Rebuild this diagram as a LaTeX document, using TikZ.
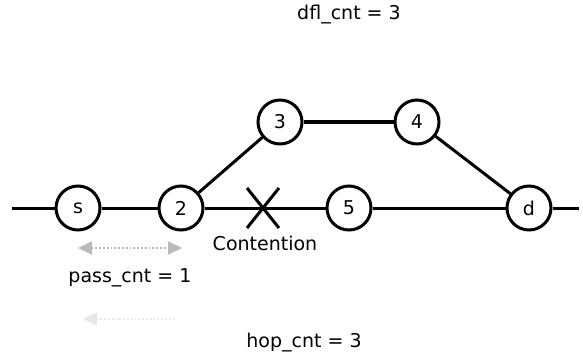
\documentclass[tikz,border=0pt]{standalone}
\usepackage{fontspec}
\setmainfont{DejaVu Sans}
\usetikzlibrary{arrows.meta,shapes.misc}

\begin{document}
\begin{tikzpicture}[x=1pt, y=-1pt,
    hopnode/.style={circle, draw, line width=3pt, minimum size=44pt, inner sep=0pt, font=\fontsize{19}{21}\selectfont},
    linkline/.style={line width=3pt, black},
    countlabel/.style={font=\fontsize{19}{22}\selectfont, inner sep=0pt},
    passarrow/.style={line width=1.8pt, gray!55, dotted, {Triangle[length=14pt,width=13pt]}-{Triangle[length=14pt,width=13pt]}},
    fadearrow/.style={line width=1.8pt, gray!18, dotted, {Triangle[length=14pt,width=13pt]}-}
  ]
    \useasboundingbox (0,0) rectangle (583,359);

    \node[hopnode] (s) at (78,208) {s};
    \node[hopnode] (n2) at (181,208) {2};
    \node[hopnode] (n3) at (280,122) {3};
    \node[hopnode] (n4) at (417,122) {4};
    \node[hopnode] (n5) at (349,208) {5};
    \node[hopnode] (d) at (529,208) {d};
    \node[cross out, draw, line width=3pt, minimum width=29pt, minimum height=37pt, inner sep=0pt] (cross) at (263,208) {};

    \coordinate (west) at (12,208);
    \coordinate (east) at (579,208);

    \draw[linkline] (west) -- (s);
    \draw[linkline] (s) -- (n2);
    \draw[linkline] (n2) -- (n5);
    \draw[linkline] (n5) -- (d);
    \draw[linkline] (d) -- (east);
    \draw[linkline] (n2) -- (n3);
    \draw[linkline, line width=3.5pt] (n3) -- (n4);
    \draw[linkline] (n4) -- (d);

    \node[countlabel] (contention) at (265,243) {Contention};
    \node[countlabel] (dfl) at (349,15) {dfl\_cnt = 3};
    \node[countlabel] (pass) at (130,278) {pass\_cnt = 1};
    \node[countlabel] (hop) at (304,343) {hop\_cnt = 3};

    % pass counter arrows under the first link
    \coordinate (passl) at (78,248);
    \coordinate (passr) at (182,248);
    \coordinate (fadel) at (83,319);
    \coordinate (fader) at (175,319);
    \draw[passarrow] (passl) -- (passr);
    \draw[fadearrow] (fadel) -- (fader);
\end{tikzpicture}
\end{document}
